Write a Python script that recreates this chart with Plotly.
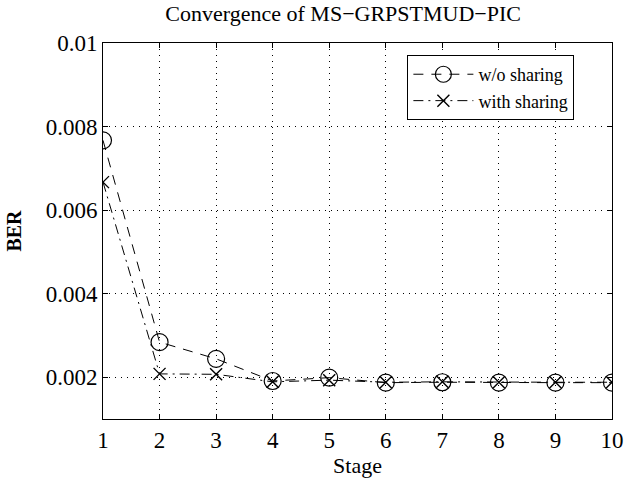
import plotly.graph_objects as go

stages = [1, 2, 3, 4, 5, 6, 7, 8, 9, 10]
ber_without = [0.00767, 0.00284, 0.00244, 0.00191, 0.00199, 0.00187, 0.00188, 0.00187, 0.00187, 0.00187]
ber_with = [0.00667, 0.00208, 0.00207, 0.00189, 0.00193, 0.00188, 0.00189, 0.00188, 0.00188, 0.00188]
ytick_vals = [0.002, 0.004, 0.006, 0.008, 0.01]
ytick_text = ["0.002", "0.004", "0.006", "0.008", "0.01"]

FONT = "Times New Roman, Liberation Serif, serif"

fig = go.Figure()
fig.add_trace(go.Scatter(
    x=stages, y=ber_without, name="w/o sharing", mode="lines+markers",
    line=dict(color="black", width=1, dash="10px,8px"),
    marker=dict(symbol="circle-open", size=17, color="black", line=dict(width=1.2)),
))
fig.add_trace(go.Scatter(
    x=stages, y=ber_with, name="with sharing", mode="lines+markers",
    line=dict(color="black", width=1, dash="10px,5px,2px,5px"),
    marker=dict(symbol="x-thin-open", size=12, color="black", line=dict(width=1.4, color="black")),
))

axis_common = dict(
    showline=True, linecolor="black", linewidth=1, mirror="ticks",
    ticks="inside", ticklen=5, tickcolor="black",
    showgrid=True, gridcolor="black", griddash="1px,5px", gridwidth=1,
    zeroline=False, automargin=False,
    tickfont=dict(family=FONT, size=23, color="black"),
)

fig.update_layout(
    width=624, height=482,
    margin=dict(l=103, r=12, t=43, b=63),
    paper_bgcolor="white", plot_bgcolor="white",
    font=dict(family=FONT, color="black"),
    title=dict(text="Convergence of MS\u2212GRPSTMUD\u2212PIC", x=0.55, xanchor="center",
               y=0.972, yanchor="middle",
               font=dict(family=FONT, size=22, color="black")),
    xaxis=dict(range=[1, 10], tickvals=stages, title=dict(text="Stage", standoff=2,
               font=dict(family=FONT, size=22, color="black")), **axis_common),
    yaxis=dict(range=[0.001, 0.01], tickvals=ytick_vals, ticktext=ytick_text,
               title=dict(text="<b>BER</b>", standoff=18,
                          font=dict(family=FONT, size=20, color="black")), **axis_common),
    legend=dict(x=0.598, y=0.968, xanchor="left", yanchor="top",
                bordercolor="black", borderwidth=1, bgcolor="white",
                font=dict(family=FONT, size=18, color="black"),
                tracegroupgap=0, itemwidth=60),
    showlegend=True,
)

fig.write_html("out.html")
